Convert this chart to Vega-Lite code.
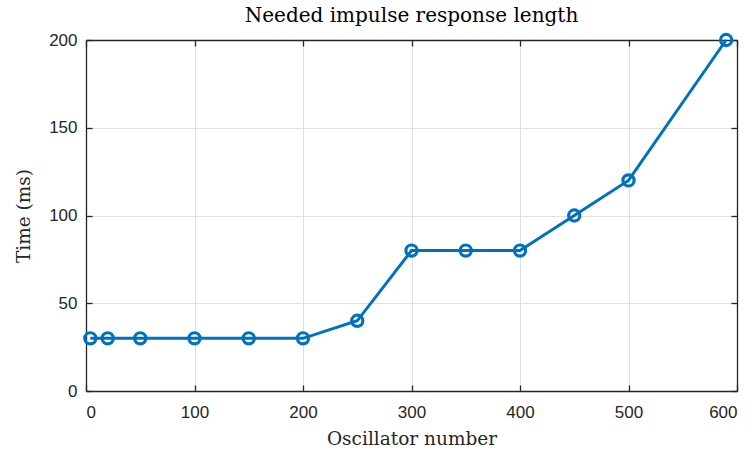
{
  "$schema": "https://vega.github.io/schema/vega-lite/v6.json",
  "width": 651,
  "height": 351,
  "autosize": {"type": "none"},
  "padding": {"left": 86, "top": 40, "right": 17, "bottom": 59},
  "background": "white",
  "title": {"text": "Needed impulse response length", "font": "DejaVu Serif", "fontSize": 20, "fontWeight": "normal", "color": "#000000", "offset": 2, "anchor": "middle"},
  "config": {
    "view": {"stroke": null},
    "axis": {"domainColor": "#262626", "tickColor": "#262626", "labelColor": "#262626", "labelFont": "Liberation Sans", "labelFontSize": 17, "gridColor": "#dfdfdf", "domainWidth": 1.3, "tickWidth": 1.3, "titleFont": "DejaVu Serif", "titleFontWeight": "normal", "titleFontSize": 18.5, "titleColor": "#262626"}
  },
  "data": {"values": [
    {"osc": 4, "time": 30},
    {"osc": 20, "time": 30},
    {"osc": 50, "time": 30},
    {"osc": 100, "time": 30},
    {"osc": 150, "time": 30},
    {"osc": 200, "time": 30},
    {"osc": 250, "time": 40},
    {"osc": 300, "time": 80},
    {"osc": 350, "time": 80},
    {"osc": 400, "time": 80},
    {"osc": 450, "time": 100},
    {"osc": 500, "time": 120},
    {"osc": 590, "time": 200}
  ]},
  "layer": [
    {
      "mark": {"type": "rule", "opacity": 0},
      "encoding": {
        "x": {"field": "osc", "type": "quantitative", "scale": {"domain": [0, 600], "nice": false}, "axis": {"orient": "top", "labels": false, "title": null, "grid": false, "tickSize": -6, "values": [0, 100, 200, 300, 400, 500, 600]}},
        "y": {"field": "time", "type": "quantitative", "scale": {"domain": [0, 200], "nice": false}, "axis": {"orient": "right", "labels": false, "title": null, "grid": false, "tickSize": -6, "values": [0, 50, 100, 150, 200]}}
      }
    },
    {
      "mark": {"type": "line", "color": "#0072BD", "strokeWidth": 3, "point": {"shape": "circle", "filled": false, "stroke": "#0072BD", "strokeWidth": 3.2, "size": 125}},
      "encoding": {
        "x": {"field": "osc", "type": "quantitative", "scale": {"domain": [0, 600], "nice": false}, "axis": {"orient": "bottom", "title": "Oscillator number", "titlePadding": 9, "tickSize": -6, "labelPadding": 19, "values": [0, 100, 200, 300, 400, 500, 600], "grid": true}},
        "y": {"field": "time", "type": "quantitative", "scale": {"domain": [0, 200], "nice": false}, "axis": {"orient": "left", "title": "Time (ms)", "titlePadding": 15, "tickSize": -6, "labelPadding": 15, "values": [0, 50, 100, 150, 200], "grid": true}}
      }
    }
  ],
  "resolve": {"axis": {"x": "independent", "y": "independent"}}
}
